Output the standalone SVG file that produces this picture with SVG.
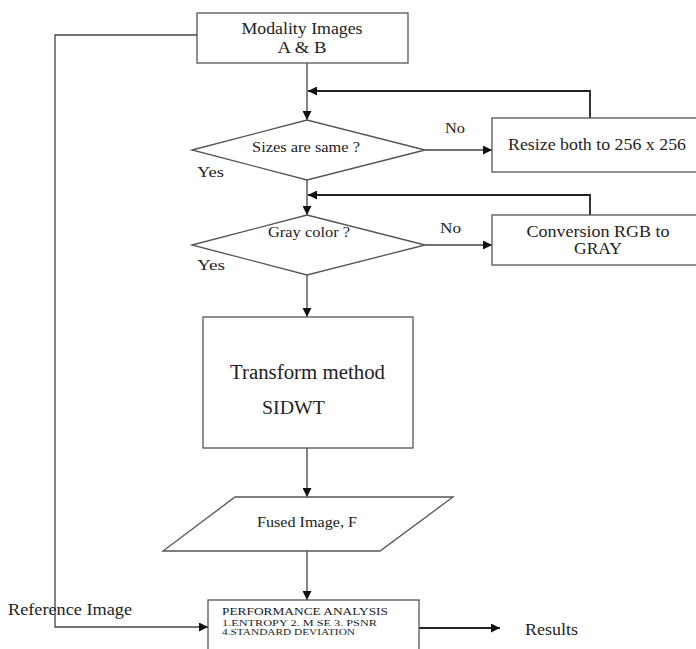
<svg xmlns="http://www.w3.org/2000/svg" width="696" height="649" viewBox="0 0 696 649">
<defs>
<style>
.box{fill:#fff;stroke:#555;stroke-width:1.3}
.ln{fill:none;stroke:#444;stroke-width:1.3}
.fb{fill:none;stroke:#222;stroke-width:1.8}
text{font-family:"Liberation Serif","Times New Roman",serif;fill:#222}
.c{text-anchor:middle}
</style>
<marker id="ah" viewBox="0 0 10 10" refX="10" refY="5" markerWidth="9" markerHeight="9" markerUnits="userSpaceOnUse" orient="auto">
<path d="M0,0 L10,5 L0,10 z" fill="#111"/>
</marker>
</defs>
<rect width="696" height="649" fill="#fff"/>
<g id="connectors">
<path class="ln" d="M307,63 V120" marker-end="url(#ah)"/>
<path class="fb" d="M590,118 V91 H308" marker-end="url(#ah)"/>
<path class="ln" d="M425,150 H492" marker-end="url(#ah)"/>
<path class="ln" d="M307,180 V215" marker-end="url(#ah)"/>
<path class="fb" d="M590,215 V195 H308" marker-end="url(#ah)"/>
<path class="ln" d="M425,245 H492" marker-end="url(#ah)"/>
<path class="ln" d="M307,275 V317" marker-end="url(#ah)"/>
<path class="ln" d="M307,448 V497" marker-end="url(#ah)"/>
<path class="ln" d="M307,551 V600" marker-end="url(#ah)"/>
<path class="ln" d="M197,35 H55 V627 H208" marker-end="url(#ah)"/>
<path class="fb" d="M419,628 H500" marker-end="url(#ah)"/>
<text x="445" y="133" font-size="15" textLength="20" lengthAdjust="spacingAndGlyphs">No</text>
<text x="197" y="177" font-size="15" textLength="27" lengthAdjust="spacingAndGlyphs">Yes</text>
<text x="440" y="233" font-size="15" textLength="21" lengthAdjust="spacingAndGlyphs">No</text>
<text x="197" y="270" font-size="15" textLength="28" lengthAdjust="spacingAndGlyphs">Yes</text>
<text x="8" y="615" font-size="17" textLength="124" lengthAdjust="spacingAndGlyphs">Reference Image</text>
<text x="525" y="635" font-size="16" textLength="53" lengthAdjust="spacingAndGlyphs">Results</text>
</g>
<g id="modality">
<rect class="box" x="197" y="13" width="211" height="50"/>
<text class="c" x="302" y="34" font-size="16" textLength="121" lengthAdjust="spacingAndGlyphs">Modality Images</text>
<text class="c" x="302" y="53" font-size="16" textLength="49" lengthAdjust="spacingAndGlyphs">A &amp; B</text>
</g>
<g id="sizes">
<polygon class="box" points="192,150 307,120 425,150 307,180"/>
<text x="252" y="152" font-size="14" textLength="108" lengthAdjust="spacingAndGlyphs">Sizes are same ?</text>
</g>
<g id="resize">
<rect class="box" x="492" y="118" width="210" height="54"/>
<text x="508" y="150" font-size="16" textLength="178" lengthAdjust="spacingAndGlyphs">Resize both to 256 x 256</text>
</g>
<g id="gray">
<polygon class="box" points="192,245 307,215 425,245 307,275"/>
<text x="268" y="237" font-size="14" textLength="82" lengthAdjust="spacingAndGlyphs">Gray color ?</text>
</g>
<g id="conversion">
<rect class="box" x="492" y="215" width="210" height="50"/>
<text class="c" x="598" y="237" font-size="16" textLength="143" lengthAdjust="spacingAndGlyphs">Conversion RGB to</text>
<text class="c" x="598" y="254" font-size="16" textLength="48" lengthAdjust="spacingAndGlyphs">GRAY</text>
</g>
<g id="transform">
<rect class="box" x="203" y="317" width="210" height="131"/>
<text x="230" y="379" font-size="20" textLength="155" lengthAdjust="spacingAndGlyphs">Transform method</text>
<text x="262" y="414" font-size="19" textLength="63" lengthAdjust="spacingAndGlyphs">SIDWT</text>
</g>
<g id="fused">
<polygon class="box" points="235,497 453,497 380,551 163,551"/>
<text x="257" y="527" font-size="15" textLength="100" lengthAdjust="spacingAndGlyphs">Fused Image, F</text>
</g>
<g id="performance">
<rect class="box" x="208" y="600" width="211" height="60"/>
<text x="222" y="615" font-size="10" textLength="166" lengthAdjust="spacingAndGlyphs">PERFORMANCE  ANALYSIS</text>
<text x="222" y="625.5" font-size="8.5" textLength="155" lengthAdjust="spacingAndGlyphs">1.ENTROPY 2. M SE 3. PSNR</text>
<text x="222" y="635" font-size="8.5" textLength="133" lengthAdjust="spacingAndGlyphs">4.STANDARD DEVIATION</text>
</g>
</svg>
